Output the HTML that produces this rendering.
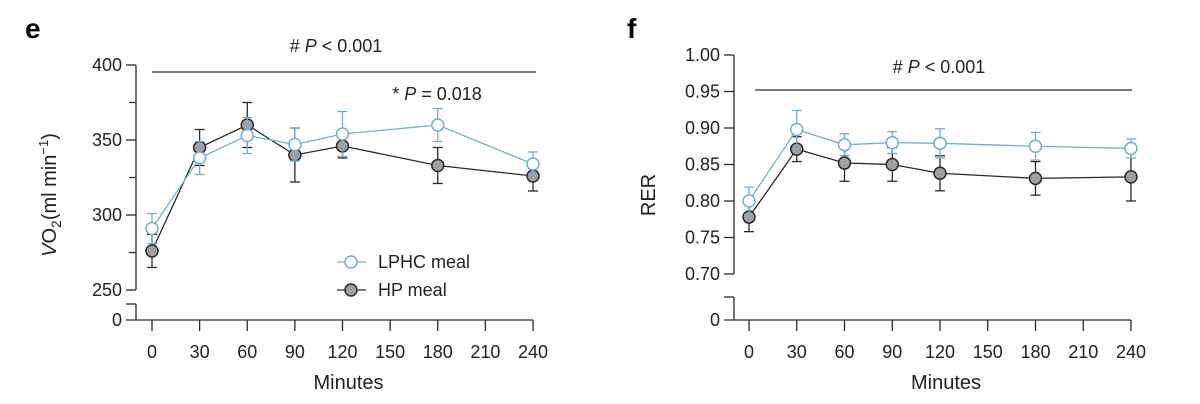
<!DOCTYPE html>
<html><head><meta charset="utf-8"><style>
body{margin:0;background:#fff;}
svg{display:block;font-family:"Liberation Sans",sans-serif;}
</style></head><body>
<svg id="s" width="1200" height="404" viewBox="0 0 1200 404">
<text x="25" y="38" font-size="28" font-weight="bold">e</text>
<text x="627" y="38" font-size="28" font-weight="bold">f</text>
</svg>
<script>
const minutes=[0,30,60,90,120,180,240];
const xTicks=[0,30,60,90,120,150,180,210,240];
const vo2Lphc=[291,338,353,347,354,360,334];
const vo2LphcErr=[10,11,12,11,15,11,8];
const vo2Hp=[276,345,360,340,346,333,326];
const vo2HpErr=[11,12,15,18,8,12,10];
const vo2Ticks=[250,300,350,400];
const vo2Minor=[275,325,375];
const rerLphc=[0.800,0.898,0.877,0.880,0.879,0.875,0.872];
const rerLphcErr=[0.019,0.026,0.015,0.015,0.020,0.019,0.013];
const rerHp=[0.778,0.871,0.852,0.850,0.838,0.831,0.833];
const rerHpErr=[0.020,0.017,0.025,0.023,0.024,0.023,0.033];
const rerTicks=[0.70,0.75,0.80,0.85,0.90,0.95,1.00];

const NS="http://www.w3.org/2000/svg";
const svg=document.getElementById('s');
const BLUE="#6fb0d2",DARK="#2a2a2a";
function mk(tag,attrs,parent){const e=document.createElementNS(NS,tag);for(const k in attrs)e.setAttribute(k,attrs[k]);(parent||svg).appendChild(e);return e;}
function txt(x,y,s,attrs,parent){const e=mk('text',Object.assign({x:x,y:y,'font-size':18,fill:'#222'},attrs||{}),parent);e.textContent=s;return e;}

function panel(cfg){
  const g=mk('g',{});
  
  
  const X=m=>cfg.x0+(m-0)/240*(cfg.x1-cfg.x0);
  const Y=v=>cfg.yTop+(cfg.vTop-v)/(cfg.vTop-cfg.vBot)*(cfg.yBot-cfg.yTop);
  // y axis
  const ya=mk('g',{},g);
  
  
  mk('line',{x1:cfg.ax,y1:Y(cfg.vTop),x2:cfg.ax,y2:Y(cfg.vBot),stroke:DARK,'stroke-width':1.3},ya);
  mk('line',{x1:cfg.ax,y1:cfg.brk,x2:cfg.ax,y2:320,stroke:DARK,'stroke-width':1.3},ya);
  mk('line',{x1:cfg.ax-10,y1:cfg.brk,x2:cfg.ax,y2:cfg.brk,stroke:DARK,'stroke-width':1.3},ya);
  cfg.ticks.forEach(v=>{
    mk('line',{x1:cfg.ax-10,y1:Y(v),x2:cfg.ax,y2:Y(v),stroke:DARK,'stroke-width':1.3},ya);
    const t=txt(cfg.ax-14,Y(v)+6,cfg.fmt(v),{'text-anchor':'end'},ya);
    
    
  });
  (cfg.minor||[]).forEach(v=>mk('line',{x1:cfg.ax-7,y1:Y(v),x2:cfg.ax,y2:Y(v),stroke:DARK,'stroke-width':1.3},ya));
  txt(cfg.ax-14,326,"0",{'text-anchor':'end'},ya);
  mk('line',{x1:cfg.ax-10,y1:320,x2:cfg.x1,y2:320,stroke:DARK,'stroke-width':1.3},ya);
  // x axis ticks
  const xa=mk('g',{},g);
  
  
  xTicks.forEach(m=>{
    mk('line',{x1:X(m),y1:320,x2:X(m),y2:331,stroke:DARK,'stroke-width':1.3},xa);
    const t=txt(X(m),358,String(m),{'text-anchor':'middle'},xa);
    
    
  });
  const xt=txt((cfg.x0+cfg.x1)/2+6,389,"Minutes",{'text-anchor':'middle','font-size':20},g);
  
  
  // series
  function series(vals,errs,col,fill,nm){
    const sg=mk('g',{},g);
    
    
    mk('polyline',{points:minutes.map((m,i)=>X(m)+','+Y(vals[i])).join(' '),fill:'none',stroke:col,'stroke-width':1.3},sg);
    minutes.forEach((m,i)=>{
      const x=X(m),a=Y(vals[i]+errs[i]),b=Y(vals[i]-errs[i]);
      mk('line',{x1:x,y1:a,x2:x,y2:b,stroke:col,'stroke-width':1.3},sg);
      mk('line',{x1:x-5,y1:a,x2:x+5,y2:a,stroke:col,'stroke-width':1.3},sg);
      mk('line',{x1:x-5,y1:b,x2:x+5,y2:b,stroke:col,'stroke-width':1.3},sg);
    });
    minutes.forEach((m,i)=>{
      const c=mk('circle',{cx:X(m),cy:Y(vals[i]),r:6,fill:fill,stroke:col,'stroke-width':1.5},sg);
      
      
    });
  }
  series(cfg.hp,cfg.hpE,DARK,"#a0a0a0","series-hp");
  series(cfg.lp,cfg.lpE,BLUE,"#fff","series-lphc");
  return {X,Y,g};
}

const L=panel({name:'panel-e-vo2',ax:136,x0:152,x1:533,yTop:65,yBot:290,vTop:400,vBot:250,brk:304,
  ticks:vo2Ticks,minor:vo2Minor,fmt:v=>String(v),lp:vo2Lphc,lpE:vo2LphcErr,hp:vo2Hp,hpE:vo2HpErr});
const R=panel({name:'panel-f-rer',ax:734,x0:749,x1:1131,yTop:55,yBot:274,vTop:1.00,vBot:0.70,brk:297,
  ticks:rerTicks,fmt:v=>v.toFixed(2),lp:rerLphc,lpE:rerLphcErr,hp:rerHp,hpE:rerHpErr});

// annotations
mk('line',{x1:152,y1:72,x2:536,y2:72,stroke:DARK,'stroke-width':1.3});
let a=txt(336,52,"",{'text-anchor':'middle','font-size':18});
a.innerHTML='# <tspan font-style="italic">P</tspan> &lt; 0.001';


a=txt(437,100,"",{'text-anchor':'middle','font-size':18});
a.innerHTML='* <tspan font-style="italic">P</tspan> = 0.018';


mk('line',{x1:755,y1:90,x2:1132,y2:90,stroke:DARK,'stroke-width':1.3});
a=txt(939,73,"",{'text-anchor':'middle','font-size':18});
a.innerHTML='# <tspan font-style="italic">P</tspan> &lt; 0.001';



// y titles
a=txt(0,0,"",{'text-anchor':'middle','font-size':20,transform:'translate(56,195) rotate(-90)'});
a.innerHTML='<tspan font-style="italic">V</tspan>O<tspan font-size="14" dy="5">2</tspan><tspan dy="-5">(ml min</tspan><tspan font-size="13" dy="-8">−1</tspan><tspan dy="8">)</tspan>';


a=txt(0,0,"RER",{'text-anchor':'middle','font-size':20,transform:'translate(655,195) rotate(-90)'});



// legend
const lg=mk('g',{});


[[262,BLUE,"#fff","LPHC meal"],[290,DARK,"#a0a0a0","HP meal"]].forEach(r=>{
  const e=mk('g',{},lg);
  
  
  mk('line',{x1:337,y1:r[0],x2:366,y2:r[0],stroke:r[1],'stroke-width':1.3},e);
  mk('circle',{cx:351,cy:r[0],r:6,fill:r[2],stroke:r[1],'stroke-width':1.5},e);
  txt(378,r[0]+6,r[3],{'font-size':18},e);
});
</script>
</body></html>
